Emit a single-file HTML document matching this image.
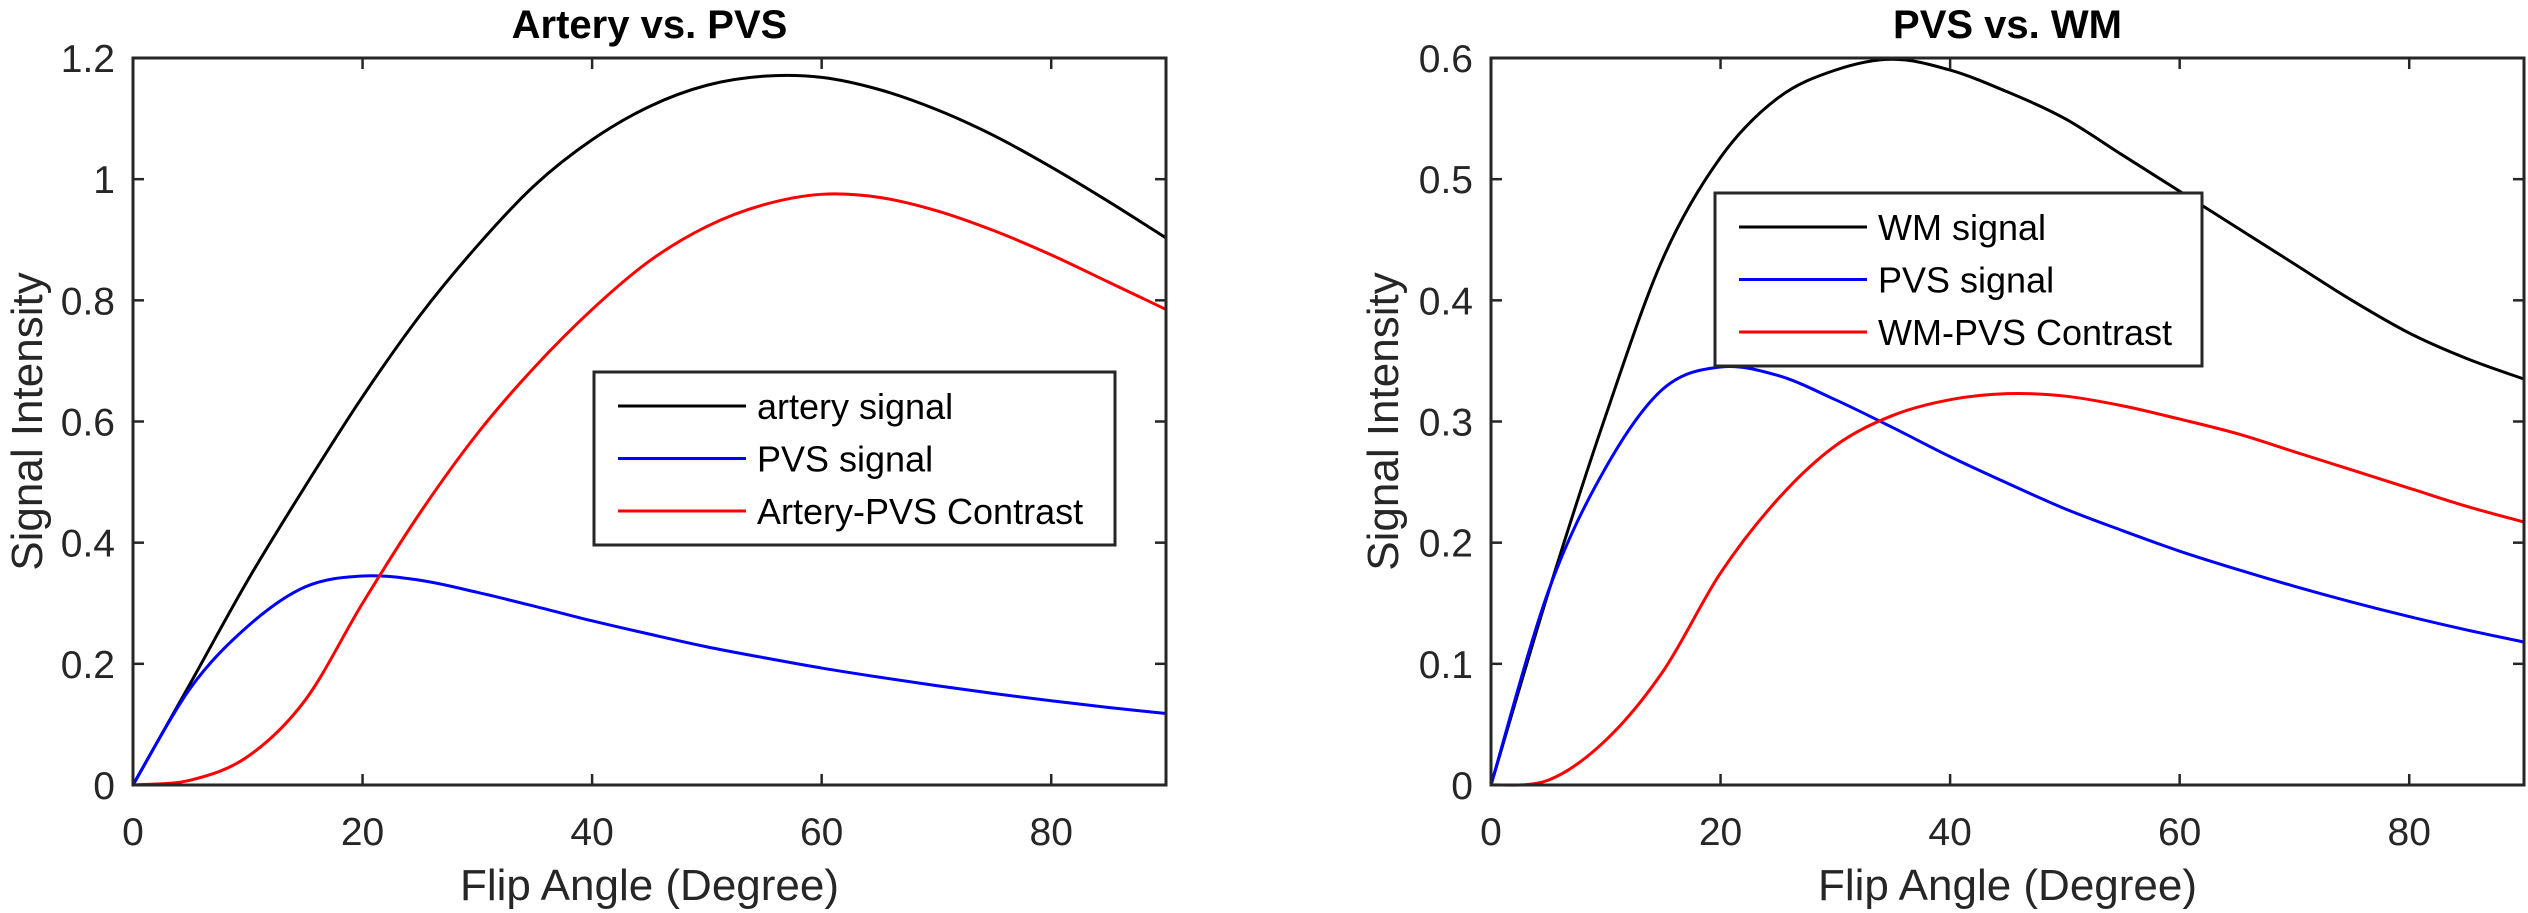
<!DOCTYPE html>
<html><head><meta charset="utf-8"><style>
html,body{margin:0;padding:0;background:#fff;}
svg{display:block;font-family:"Liberation Sans",Arial,sans-serif;}
</style></head><body>
<svg id="fig" width="2528" height="913" viewBox="0 0 2528 913" xmlns="http://www.w3.org/2000/svg"></svg>
<script>
const angles=[0,5,10,15,20,25,30,35,40,45,50,55,60,65,70,75,80,85,90];
const arterySignal=[0,0.168,0.338,0.493,0.641,0.775,0.89,0.99,1.065,1.12,1.155,1.17,1.168,1.148,1.115,1.072,1.02,0.963,0.903];
const pvsSignal=[0,0.16,0.262,0.327,0.345,0.338,0.318,0.295,0.271,0.249,0.228,0.21,0.193,0.178,0.164,0.151,0.139,0.128,0.118];
const arteryContrast=[0,0.008,0.047,0.14,0.30,0.449,0.58,0.69,0.785,0.865,0.922,0.958,0.975,0.97,0.948,0.915,0.875,0.83,0.785];
const wmSignal=[0,0.159,0.305,0.435,0.518,0.567,0.59,0.599,0.59,0.572,0.55,0.52,0.49,0.46,0.43,0.40,0.373,0.352,0.335];
const wmContrast=[0,0.004,0.037,0.094,0.175,0.236,0.28,0.305,0.318,0.323,0.321,0.313,0.302,0.29,0.275,0.26,0.245,0.23,0.217];
const xTicks=[0,20,40,60,80];
const yTicksLeft=[0,0.2,0.4,0.6,0.8,1,1.2];
const yTicksRight=[0,0.1,0.2,0.3,0.4,0.5,0.6];

const NS="http://www.w3.org/2000/svg";
const svg=document.getElementById('fig');
function mk(tag,attrs,parent){const e=document.createElementNS(NS,tag);for(const k in attrs)e.setAttribute(k,attrs[k]);(parent||svg).appendChild(e);return e;}

function smoothPath(pts){
  let d=`M${pts[0][0]},${pts[0][1]}`;
  for(let i=0;i<pts.length-1;i++){
    const p0=pts[Math.max(0,i-1)],p1=pts[i],p2=pts[i+1],p3=pts[Math.min(pts.length-1,i+2)];
    const c1x=p1[0]+(p2[0]-p0[0])/6,c1y=p1[1]+(p2[1]-p0[1])/6;
    const c2x=p2[0]-(p3[0]-p1[0])/6,c2y=p2[1]-(p3[1]-p1[1])/6;
    d+=` C${c1x},${c1y} ${c2x},${c2y} ${p2[0]},${p2[1]}`;
  }
  return d;
}

function panel(cfg){
  const g=mk('g',{});
  
  
  const L=cfg.left,R=cfg.right,T=58,B=785;
  const xs=v=>L+(v-0)/(90-0)*(R-L);
  const ys=v=>B-(v/cfg.ymax)*(B-T);
  cfg.series.forEach(s=>{
    const pts=angles.map((a,i)=>[xs(a),ys(s.data[i])]);
    const p=mk('path',{d:smoothPath(pts),fill:'none',stroke:s.color,'stroke-width':3,'stroke-linejoin':'round'},g);
    
    
  });
  const box=mk('rect',{x:L,y:T,width:R-L,height:B-T,fill:'none',stroke:'#262626','stroke-width':3},g);
  
  
  xTicks.forEach(t=>{
    const x=xs(t);
    mk('line',{x1:x,y1:B,x2:x,y2:B-11,stroke:'#262626','stroke-width':2.5},g);
    mk('line',{x1:x,y1:T,x2:x,y2:T+11,stroke:'#262626','stroke-width':2.5},g);
    const tx=mk('text',{x:x,y:845,'font-size':39,fill:'#262626','text-anchor':'middle'},g);
    tx.textContent=t;
    
    
  });
  cfg.yticks.forEach(t=>{
    const y=ys(t);
    mk('line',{x1:L,y1:y,x2:L+11,y2:y,stroke:'#262626','stroke-width':2.5},g);
    mk('line',{x1:R,y1:y,x2:R-11,y2:y,stroke:'#262626','stroke-width':2.5},g);
    const tx=mk('text',{x:L-18,y:y+14,'font-size':39,fill:'#262626','text-anchor':'end'},g);
    tx.textContent=String(t);
    
    
  });
  const title=mk('text',{x:(L+R)/2,y:38,'font-size':40,'font-weight':'bold',fill:'#000','text-anchor':'middle'},g);
  title.textContent=cfg.title;
  
  
  const xl=mk('text',{x:(L+R)/2,y:900,'font-size':44,fill:'#262626','text-anchor':'middle'},g);
  xl.textContent='Flip Angle (Degree)';
  
  
  const yx=cfg.ylabelX,yc=(T+B)/2;
  const yl=mk('text',{x:yx,y:yc,'font-size':44,fill:'#262626','text-anchor':'middle',transform:`rotate(-90 ${yx} ${yc})`},g);
  yl.textContent='Signal Intensity';
  
  
  const lg=cfg.legend;
  const lgG=mk('g',{},g);
  
  
  mk('rect',{x:lg.x,y:lg.y,width:lg.w,height:lg.h,fill:'#fff',stroke:'#262626','stroke-width':3},lgG);
  cfg.series.forEach((s,i)=>{
    const ry=lg.y+34+i*52.5;
    const e=mk('g',{},lgG);
    
    
    mk('line',{x1:lg.x+24,y1:ry,x2:lg.x+152,y2:ry,stroke:s.color,'stroke-width':3},e);
    const t=mk('text',{x:lg.x+163,y:ry+13,'font-size':36,fill:'#000'},e);
    t.textContent=s.label;
  });
}

panel({name:'artery-vs-pvs-chart',left:133,right:1166,ymax:1.2,yticks:yTicksLeft,title:'Artery vs. PVS',ylabelX:42,
  series:[{name:'artery-signal-line',label:'artery signal',color:'#000',data:arterySignal},
          {name:'pvs-signal-line',label:'PVS signal',color:'#0000ff',data:pvsSignal},
          {name:'artery-pvs-contrast-line',label:'Artery-PVS Contrast',color:'#ff0000',data:arteryContrast}],
  legend:{x:594,y:372,w:521,h:173}});
panel({name:'pvs-vs-wm-chart',left:1491,right:2524,ymax:0.6,yticks:yTicksRight,title:'PVS vs. WM',ylabelX:1398,
  series:[{name:'wm-signal-line',label:'WM signal',color:'#000',data:wmSignal},
          {name:'pvs-signal-line',label:'PVS signal',color:'#0000ff',data:pvsSignal},
          {name:'wm-pvs-contrast-line',label:'WM-PVS Contrast',color:'#ff0000',data:wmContrast}],
  legend:{x:1715,y:193,w:487,h:173}});
</script>
</body></html>
